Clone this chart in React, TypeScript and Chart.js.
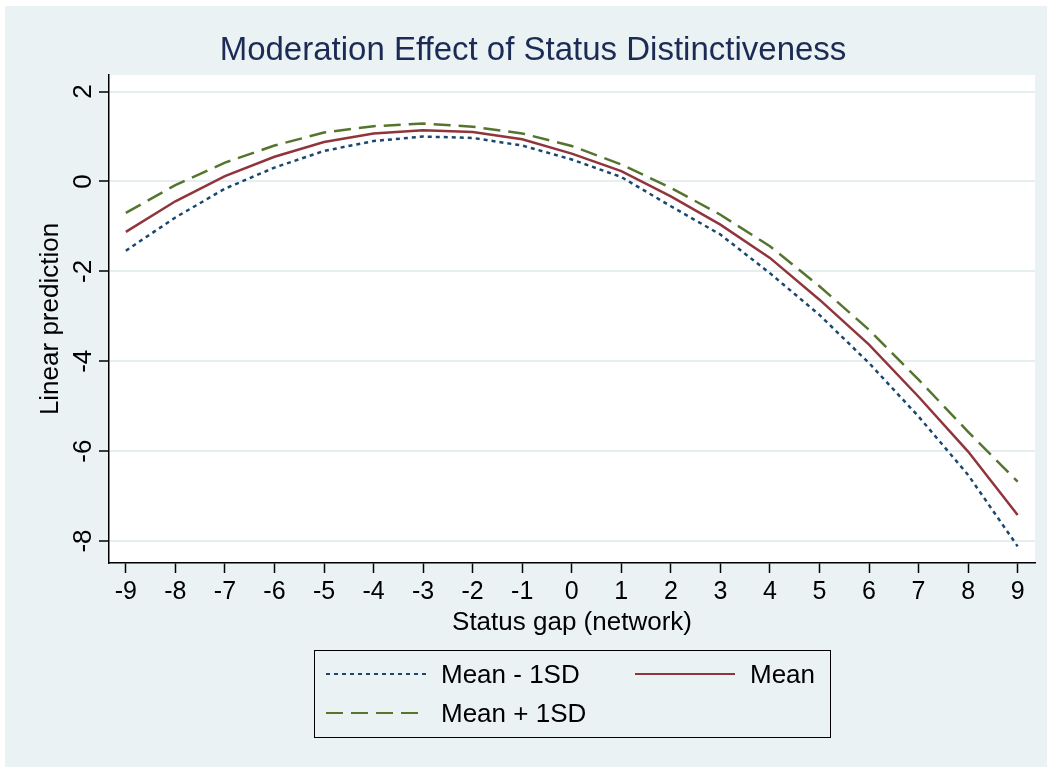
import React, { useEffect, useRef } from "react";
import { Chart, registerables } from "chart.js";

Chart.register(...registerables);

// Status gap values on the horizontal axis
const statusGap = [-9, -8, -7, -6, -5, -4, -3, -2, -1, 0, 1, 2, 3, 4, 5, 6, 7, 8, 9];

// Linear predictions at three levels of status distinctiveness
const meanMinusSD = [-1.54, -0.8, -0.16, 0.31, 0.68, 0.9, 1.0, 0.97, 0.8, 0.49, 0.1, -0.55, -1.18, -2.04, -2.97, -4.04, -5.23, -6.53, -8.12];
const meanLine = [-1.12, -0.44, 0.12, 0.55, 0.88, 1.07, 1.14, 1.1, 0.94, 0.62, 0.23, -0.33, -0.96, -1.7, -2.63, -3.63, -4.79, -6.01, -7.42];
const meanPlusSD = [-0.7, -0.08, 0.42, 0.8, 1.09, 1.23, 1.29, 1.22, 1.07, 0.79, 0.38, -0.14, -0.74, -1.44, -2.33, -3.3, -4.41, -5.57, -6.68];

// Axis ticks
const xTicks = [-9, -8, -7, -6, -5, -4, -3, -2, -1, 0, 1, 2, 3, 4, 5, 6, 7, 8, 9];
const yTicks = [-8, -6, -4, -2, 0, 2];

const FONT = "'Liberation Sans', Arial, Helvetica, sans-serif";
const PANEL = "#eaf2f3";
const BLUE = "#1a476f";
const RED = "#90353b";
const GREEN = "#55752f";

const backdrop = {
  id: "backdrop",
  beforeDraw(chart: any) {
    const { ctx, width, height, chartArea } = chart;
    ctx.save();
    ctx.fillStyle = "#ffffff";
    ctx.fillRect(0, 0, width, height);
    ctx.fillStyle = PANEL;
    ctx.fillRect(5, 6, width - 5, height - 9);
    ctx.fillStyle = "#ffffff";
    ctx.fillRect(chartArea.left, chartArea.top, chartArea.right - chartArea.left, chartArea.bottom - chartArea.top);
    ctx.restore();
  },
};

function LegendItem(props: { x: number; y: number; color: string; dash: string; label: string }) {
  const { x, y, color, dash, label } = props;
  return (
    <>
      <svg
        width={100}
        height={6}
        style={{ position: "absolute", left: x, top: y - 3 }}
      >
        <line x1={0} y1={3} x2={100} y2={3} stroke={color} strokeWidth={2.2} strokeDasharray={dash} />
      </svg>
      <div
        style={{
          position: "absolute",
          left: x + 115,
          top: y - 15,
          height: 30,
          lineHeight: "30px",
          fontSize: 26,
          fontFamily: FONT,
          color: "#000",
          whiteSpace: "nowrap",
        }}
      >
        {label}
      </div>
    </>
  );
}

export default function App() {
  const canvasRef = useRef<HTMLCanvasElement | null>(null);

  useEffect(() => {
    if (!canvasRef.current) return;
    const toPoints = (ys: number[]) => statusGap.map((x, i) => ({ x, y: ys[i] }));
    const chart = new Chart(canvasRef.current, {
      type: "line",
      data: {
        datasets: [
          {
            label: "Mean - 1SD",
            data: toPoints(meanMinusSD),
            borderColor: BLUE,
            borderWidth: 2.5,
            borderDash: [4, 4],
            pointRadius: 0,
            tension: 0,
          },
          {
            label: "Mean",
            data: toPoints(meanLine),
            borderColor: RED,
            borderWidth: 2.5,
            pointRadius: 0,
            tension: 0,
          },
          {
            label: "Mean + 1SD",
            data: toPoints(meanPlusSD),
            borderColor: GREEN,
            borderWidth: 2.5,
            borderDash: [17, 8],
            pointRadius: 0,
            tension: 0,
          },
        ],
      },
      options: {
        animation: false,
        responsive: false,
        layout: { padding: { left: 31, right: 12, top: 0, bottom: 127 } },
        plugins: {
          legend: { display: false },
          tooltip: { enabled: false },
          title: {
            display: true,
            text: "Moderation Effect of Status Distinctiveness",
            color: "#1c2b55",
            font: { family: FONT, size: 33, weight: "normal", lineHeight: 1.2 },
            padding: { top: 31, bottom: 4.4 },
          },
        },
        scales: {
          x: {
            type: "linear",
            position: "bottom",
            min: -9.34,
            max: 9.35,
            afterBuildTicks: (s: any) => {
              s.ticks = xTicks.map((v) => ({ value: v }));
            },
            afterFit: (s: any) => {
              s.height = 80;
            },
            ticks: {
              color: "#000",
              font: { family: FONT, size: 25 },
              padding: 4,
              maxRotation: 0,
              autoSkip: false,
            },
            grid: {
              drawOnChartArea: false,
              drawTicks: true,
              tickLength: 10,
              tickColor: "#000",
              tickWidth: 1.5,
            },
            border: { display: true, color: "#000", width: 1.5 },
            title: {
              display: true,
              text: "Status gap (network)",
              color: "#000",
              font: { family: FONT, size: 26, lineHeight: 1.2 },
              padding: { top: 0, bottom: 5 },
            },
          },
          y: {
            type: "linear",
            min: -8.49,
            max: 2.37,
            afterBuildTicks: (s: any) => {
              s.ticks = yTicks.map((v) => ({ value: v }));
            },
            afterFit: (s: any) => {
              s.width = 78;
            },
            ticks: {
              color: "#000",
              font: { family: FONT, size: 26 },
              minRotation: 90,
              maxRotation: 90,
              crossAlign: "center",
              padding: 4,
              autoSkip: false,
            },
            grid: {
              color: "#e6eef0",
              lineWidth: 2,
              drawTicks: true,
              tickLength: 10,
              tickColor: "#000",
              tickWidth: 1.5,
            },
            border: { display: true, color: "#000", width: 1.5 },
            title: {
              display: true,
              text: "Linear prediction",
              color: "#000",
              font: { family: FONT, size: 26, lineHeight: 1.2 },
              padding: { top: 4, bottom: 0 },
            },
          },
        },
      },
      plugins: [backdrop],
    } as any);
    return () => chart.destroy();
  }, []);

  return (
    <div style={{ position: "fixed", left: 0, top: 0, width: 1047, height: 770 }}>
      <canvas ref={canvasRef} width={1047} height={770} style={{ display: "block" }} />
      <div
        style={{
          position: "absolute",
          left: 314,
          top: 650,
          width: 517,
          height: 88,
          border: "1.5px solid #000",
          boxSizing: "border-box",
        }}
      >
        <LegendItem x={11} y={23} color={BLUE} dash="4 4" label="Mean - 1SD" />
        <LegendItem x={320} y={23} color={RED} dash="" label="Mean" />
        <LegendItem x={11} y={62} color={GREEN} dash="17 8" label="Mean + 1SD" />
      </div>
    </div>
  );
}
